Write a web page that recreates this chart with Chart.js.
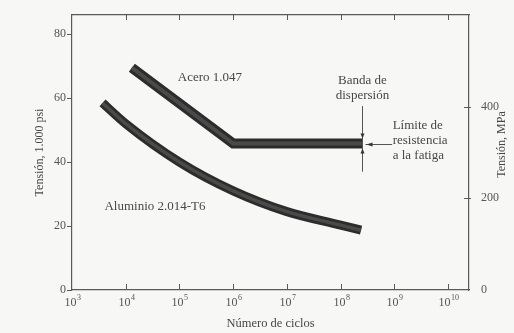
<!DOCTYPE html>
<html><head><meta charset="utf-8">
<script src="https://cdn.jsdelivr.net/npm/chart.js@4/dist/chart.umd.min.js"></script>
<style>html,body{margin:0;padding:0;background:#f7f7f5;}#wrap{width:514px;height:333px;}</style>
</head><body><div id="wrap"><canvas id="c" width="514" height="333"></canvas></div>
<script>
// ---- data ----
const xTickValues = [1e3, 1e4, 1e5, 1e6, 1e7, 1e8, 1e9, 1e10];
const xTickBase = '10';
const xTickExponents = ['3', '4', '5', '6', '7', '8', '9', '10'];
const psiTicks = [0, 20, 40, 60, 80];
const mpaTicks = [0, 200, 400];
const steelCycles = [1.3e4, 1e6, 2.55e8];
const steelStress = [69.5, 45.8, 45.8];
const aluCycles = [3.7e3, 1e4, 1e5, 1e6, 1e7, 1e8, 2.4e8];
const aluStress = [58.5, 52, 40, 31, 24.5, 20.3, 18.7];
const enduranceCycles = 2.55e8;
const enduranceStress = 45.8;

const FONT = '"Liberation Serif", "Times New Roman", serif';
const TXT = '#474747';
const AX = '#5a5a5a';

const pts = (xs, ys) => xs.map((x, i) => ({x: x, y: ys[i]}));

const annotations = [
  {lines: ['Acero 1.047'], x: 3.7e5, y: 66.5, align: 'center'},
  {lines: ['Aluminio 2.014-T6'], x: 3.5e4, y: 26, align: 'center'},
  {lines: ['Banda de', 'dispersión'], x: 2.55e8, y: 65.6, align: 'center'},
  {lines: ['Límite de', 'resistencia', 'a la fatiga'], x: 9.3e8, y: 51.3, align: 'left'}
];

const decorPlugin = {
  id: 'decor',
  beforeDraw(chart) {
    const c = chart.ctx;
    c.save();
    c.fillStyle = '#f7f7f5';
    c.fillRect(0, 0, chart.width, chart.height);
    c.restore();
  },
  afterDraw(chart) {
    const c = chart.ctx, xs = chart.scales.x, ys = chart.scales.y, y2 = chart.scales.y2;
    const a = chart.chartArea;
    c.save();
    c.strokeStyle = AX; c.lineWidth = 1;
    // inward x ticks (bottom and top) + labels with superscript exponents
    xTickValues.forEach((v, i) => {
      const px = Math.round(xs.getPixelForValue(v)) + 0.5;
      if (i > 0) {
        c.beginPath(); c.moveTo(px, a.bottom); c.lineTo(px, a.bottom - 6); c.stroke();
        c.beginPath(); c.moveTo(px, a.top); c.lineTo(px, a.top + 5); c.stroke();
      }
      c.fillStyle = '#555';
      c.textBaseline = 'alphabetic';
      c.font = '12px ' + FONT;
      const bw = c.measureText(xTickBase).width;
      c.font = '8px ' + FONT;
      const ew = c.measureText(xTickExponents[i]).width;
      const x0 = px - (bw + ew) / 2;
      c.textAlign = 'left';
      c.font = '12px ' + FONT;
      c.fillText(xTickBase, x0, a.bottom + 16);
      c.font = '8px ' + FONT;
      c.fillText(xTickExponents[i], x0 + bw + 0.5, a.bottom + 10);
    });
    // right axis ticks
    mpaTicks.forEach(v => {
      if (v === 0) return;
      const py = Math.round(y2.getPixelForValue(v)) + 0.5;
      c.beginPath(); c.moveTo(a.right - 5, py); c.lineTo(a.right + 2, py); c.stroke();
    });
    // right axis title (reads bottom-to-top)
    c.save();
    c.translate(502, (a.top + a.bottom) / 2 - 8);
    c.rotate(-Math.PI / 2);
    c.fillStyle = TXT; c.font = '12px ' + FONT; c.textAlign = 'center'; c.textBaseline = 'middle';
    c.fillText('Tensión, MPa', 0, 0);
    c.restore();
    // scatter band markers
    const vx = Math.round(xs.getPixelForValue(enduranceCycles)) + 0.5;
    const by = ys.getPixelForValue(enduranceStress);
    c.strokeStyle = '#555'; c.fillStyle = '#333'; c.lineWidth = 1;
    c.beginPath(); c.moveTo(vx, ys.getPixelForValue(57.5)); c.lineTo(vx, ys.getPixelForValue(37)); c.stroke();
    c.beginPath(); c.moveTo(vx, by - 5); c.lineTo(vx - 2, by - 10); c.lineTo(vx + 2, by - 10); c.closePath(); c.fill();
    c.beginPath(); c.moveTo(vx, by + 5); c.lineTo(vx - 2, by + 10); c.lineTo(vx + 2, by + 10); c.closePath(); c.fill();
    const hx = xs.getPixelForValue(9.1e8);
    const hy = Math.round(by) + 0.5;
    c.beginPath(); c.moveTo(hx, hy); c.lineTo(vx + 3, hy); c.stroke();
    c.beginPath(); c.moveTo(vx + 4, hy); c.lineTo(vx + 10, hy - 2); c.lineTo(vx + 10, hy + 2); c.closePath(); c.fill();
    // text annotations
    c.fillStyle = TXT;
    c.font = '13px ' + FONT;
    c.textBaseline = 'middle';
    annotations.forEach(an => {
      c.textAlign = an.align;
      const px = xs.getPixelForValue(an.x);
      const py = ys.getPixelForValue(an.y);
      an.lines.forEach((ln, i) => c.fillText(ln, px, py + i * 15));
    });
    c.restore();
  }
};

new Chart(document.getElementById('c'), {
  type: 'line',
  data: {
    datasets: [
      {label: 'Acero 1.047 (núcleo)', data: pts(steelCycles, steelStress), borderColor: '#4a4a4a', borderWidth: 4, pointRadius: 0, tension: 0, order: 0, borderCapStyle: 'butt', borderJoinStyle: 'miter'},
      {label: 'Acero 1.047', data: pts(steelCycles, steelStress), borderColor: '#2c2c2c', borderWidth: 10, pointRadius: 0, tension: 0, order: 1, borderCapStyle: 'butt', borderJoinStyle: 'miter'},
      {label: 'Aluminio 2.014-T6 (núcleo)', data: pts(aluCycles, aluStress), borderColor: '#4a4a4a', borderWidth: 3.5, pointRadius: 0, cubicInterpolationMode: 'monotone', order: 0, borderCapStyle: 'butt'},
      {label: 'Aluminio 2.014-T6', data: pts(aluCycles, aluStress), borderColor: '#2c2c2c', borderWidth: 9, pointRadius: 0, cubicInterpolationMode: 'monotone', order: 1, borderCapStyle: 'butt'}
    ]
  },
  options: {
    responsive: false,
    animation: false,
    devicePixelRatio: 1,
    layout: {padding: 0},
    plugins: {legend: {display: false}, tooltip: {enabled: false}, title: {display: false}},
    scales: {
      x: {
        type: 'logarithmic', position: 'bottom', min: 1e3, max: 2.45e10,
        afterBuildTicks: s => { s.ticks = xTickValues.map(v => ({value: v})); },
        afterFit: s => { s.height = 43; },
        grid: {display: false},
        border: {display: true, color: AX, width: 1.2},
        ticks: {display: false},
        title: {display: true, text: 'Número de ciclos', color: TXT, font: {family: FONT, size: 12.5}, padding: {top: 0, bottom: 2}}
      },
      x2: {
        type: 'logarithmic', position: 'top', min: 1e3, max: 2.45e10,
        afterFit: s => { s.height = 15; },
        grid: {display: false},
        border: {display: true, color: AX, width: 1.2},
        ticks: {display: false}
      },
      y: {
        type: 'linear', position: 'left', min: 0, max: 86,
        afterBuildTicks: s => { s.ticks = psiTicks.map(v => ({value: v})); },
        afterFit: s => { s.width = 72; },
        grid: {display: true, drawOnChartArea: false, tickLength: 5, color: AX},
        border: {display: true, color: AX, width: 1.2},
        ticks: {padding: 1, color: '#555', font: {family: FONT, size: 12}},
        title: {display: true, text: 'Tensión, 1.000 psi', color: TXT, font: {family: FONT, size: 12}, padding: {top: 33, bottom: 0}}
      },
      y2: {
        type: 'linear', position: 'right', min: 0, max: 600,
        afterBuildTicks: s => { s.ticks = mpaTicks.map(v => ({value: v})); },
        afterFit: s => { s.width = 45; },
        grid: {display: false},
        border: {display: true, color: AX, width: 1.2},
        ticks: {padding: 4, color: '#555', font: {family: FONT, size: 12}}
      }
    }
  },
  plugins: [decorPlugin]
});
</script></body></html>
